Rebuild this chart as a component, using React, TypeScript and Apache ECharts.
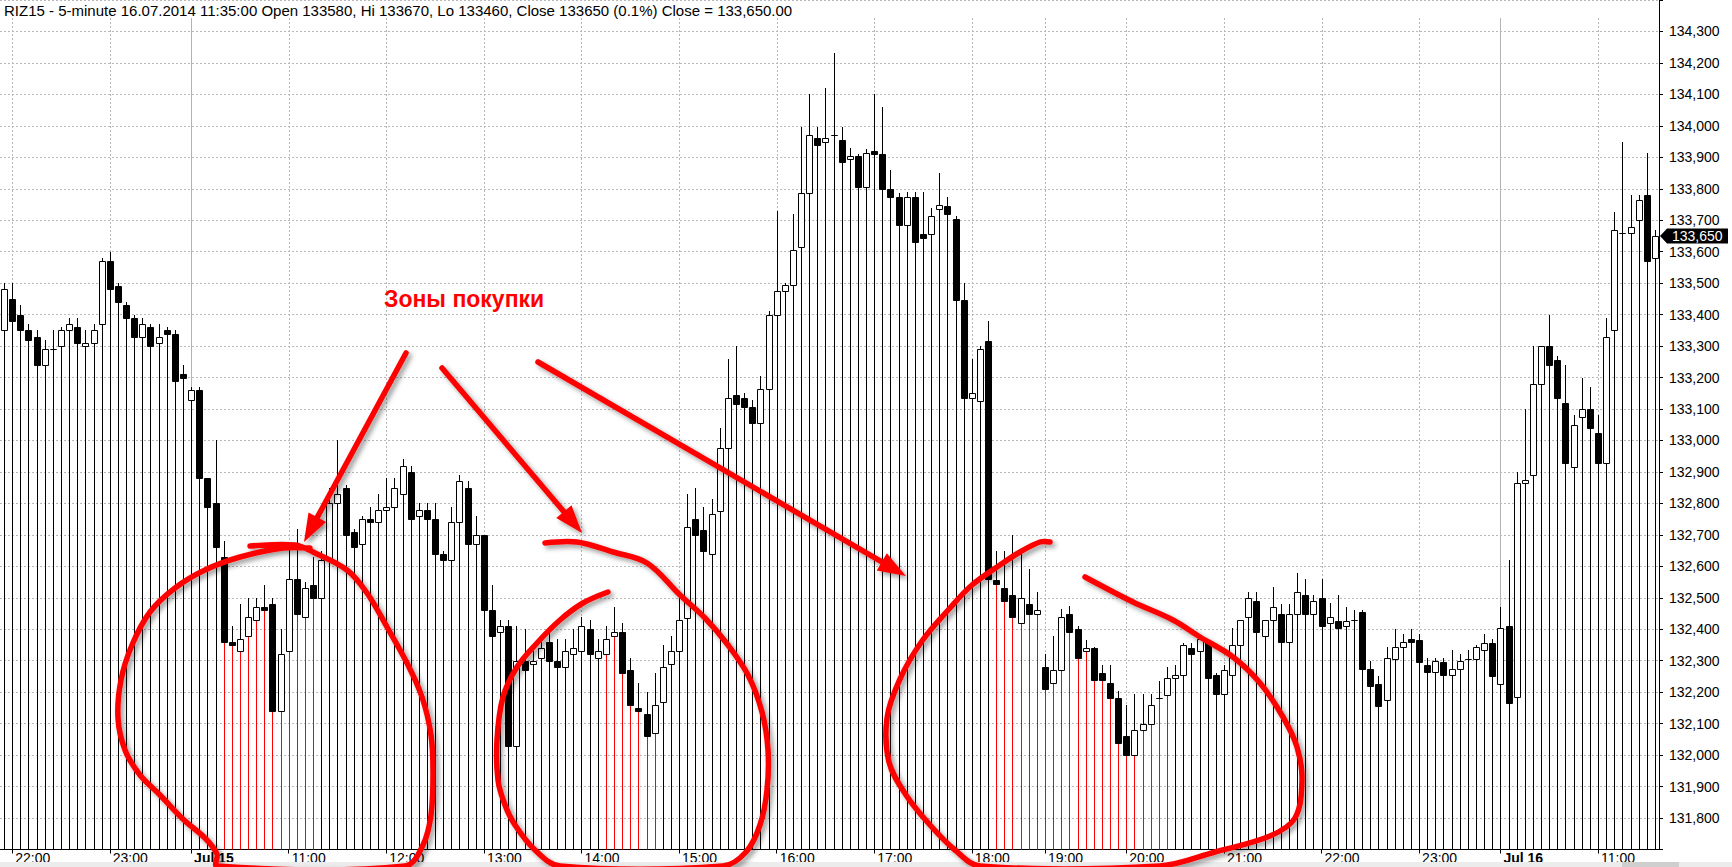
import React, { useEffect, useRef } from "react";
import * as echarts from "echarts";

// ---- categories: 5-minute bars, [hour, first minute, bar count]
const sessionHours: [number, number, number][] = [
  [21, 55, 1], [22, 0, 12], [23, 0, 10],
  [10, 0, 12], [11, 0, 12], [12, 0, 12], [13, 0, 12], [14, 0, 12], [15, 0, 12], [16, 0, 12], [17, 0, 12],
  [18, 0, 9], [19, 0, 10], [20, 0, 12], [21, 0, 12], [22, 0, 12], [23, 0, 10],
  [10, 0, 12], [11, 0, 8],
];
const pad2 = (n: number) => (n < 10 ? "0" + n : "" + n);
const times: string[] = [];
sessionHours.forEach(([h, m0, n]) => {
  for (let k = 0; k < n; k++) times.push(pad2(h) + ":" + pad2(m0 + 5 * k));
});

// ---- tick labels
const tickIdx = [1, 13, 23, 35, 47, 59, 71, 83, 95, 107, 119, 128, 138, 150, 162, 174, 184, 196];
const tickText = ["22:00", "23:00", "Jul 15", "11:00", "12:00", "13:00", "14:00", "15:00", "16:00", "17:00",
  "18:00", "19:00", "20:00", "21:00", "22:00", "23:00", "Jul 16", "11:00"];
const dayStarts = [23, 184];

// ---- buy zones (bar index ranges drawn red below the body)
const buyZones: [number, number][] = [[27, 38], [74, 80], [122, 143]];

// ---- OHLC (low lines run down to the axis)
const opens = [
  133350, 133450, 133400, 133350, 133330, 133240, 133290, 133300, 133350, 133360,
  133300, 133310, 133370, 133570, 133490, 133430, 133390, 133330, 133360, 133310,
  133350, 133340, 133210, 133130, 133160, 132880, 132800, 132630, 132360, 132330,
  132380, 132430, 132470, 132480, 132140, 132330, 132560, 132440, 132540, 132500,
  132620, 132800, 132850, 132710, 132670, 132750, 132740, 132780, 132790, 132830,
  132900, 132760, 132780, 132750, 132640, 132620, 132740, 132850, 132670, 132700,
  132460, 132390, 132410, 132030, 132300, 132290, 132310, 132360, 132300, 132280,
  132320, 132330, 132400, 132310, 132320, 132380, 132390, 132270, 132150, 132130,
  132070, 132170, 132290, 132330, 132435, 132750, 132715, 132640, 132775, 132975,
  133145, 133135, 133105, 133055, 133165, 133400, 133475, 133495, 133615, 133785,
  133960, 133950, 133970, 133955, 133895, 133905, 133805, 133920, 133910, 133800,
  133775, 133685, 133775, 133655, 133655, 133735, 133745, 133705, 133445, 133135,
  133125, 133315, 132555, 132530, 132510, 132420, 132480, 132450, 132280, 132230,
  132270, 132450, 132400, 132330, 132340, 132260, 132230, 132180, 132060, 132000,
  132080, 132100, 132180, 132190, 132245, 132255, 132340, 132330, 132360, 132255,
  132195, 132255, 132350, 132440, 132490, 132380, 132430, 132450, 132360, 132450,
  132510, 132450, 132500, 132420, 132425, 132410, 132430, 132455, 132275, 132225,
  132175, 132305, 132345, 132370, 132365, 132285, 132265, 132295, 132255, 132275,
  132305, 132305, 132335, 132355, 132225, 132410, 132185, 132865, 132890, 133180,
  133300, 133255, 133120, 132915, 133075, 133100, 133025, 132930, 133350, 133660,
  133660, 133700, 133780, 133580,
];
const closes = [
  133480, 133380, 133350, 133320, 133240, 133290, 133290, 133350, 133370, 133310,
  133310, 133350, 133570, 133480, 133440, 133390, 133330, 133370, 133300, 133330,
  133340, 133190, 133200, 133160, 132880, 132790, 132660, 132360, 132350, 132370,
  132440, 132470, 132460, 132140, 132320, 132560, 132450, 132530, 132500, 132620,
  132800, 132830, 132700, 132660, 132750, 132740, 132780, 132790, 132850, 132920,
  132750, 132780, 132750, 132640, 132620, 132740, 132870, 132670, 132700, 132460,
  132380, 132410, 132030, 132300, 132270, 132300, 132340, 132300, 132280, 132330,
  132340, 132410, 132320, 132330, 132370, 132390, 132260, 132160, 132140, 132060,
  132160, 132280, 132330, 132430, 132725, 132700, 132650, 132765, 132975, 133135,
  133115, 133105, 133055, 133165, 133400, 133475, 133495, 133605, 133785, 133970,
  133940, 133960, 133970, 133885, 133905, 133805, 133915, 133910, 133800, 133775,
  133685, 133775, 133630, 133645, 133715, 133750, 133720, 133445, 133135, 133150,
  133290, 132560, 132545, 132490, 132440, 132500, 132450, 132460, 132210, 132270,
  132440, 132390, 132310, 132340, 132240, 132240, 132180, 132040, 132000, 132080,
  132100, 132160, 132180, 132245, 132255, 132350, 132320, 132370, 132245, 132195,
  132270, 132350, 132430, 132500, 132390, 132430, 132470, 132360, 132450, 132520,
  132450, 132490, 132410, 132440, 132405, 132425, 132430, 132275, 132220, 132155,
  132310, 132345, 132360, 132360, 132295, 132265, 132300, 132255, 132275, 132300,
  132305, 132345, 132355, 132250, 132405, 132165, 132865, 132875, 133180, 133300,
  133240, 133135, 132930, 133050, 133100, 133040, 132930, 133330, 133670, 133660,
  133680, 133765, 133570, 133650,
];
const highs = [
  133500, 133500, 133430, 133370, 133350, 133320, 133350, 133360, 133390, 133390,
  133350, 133370, 133580, 133600, 133500, 133440, 133400, 133390, 133370, 133370,
  133360, 133350, 133240, 133170, 133170, 132880, 133000, 132680, 132410, 132480,
  132500, 132500, 132540, 132500, 132400, 132660, 132720, 132550, 132630, 132650,
  132850, 133000, 132860, 132720, 132760, 132790, 132830, 132880, 132880, 132940,
  132920, 132800, 132800, 132800, 132650, 132790, 132890, 132870, 132760, 132700,
  132540, 132430, 132430, 132410, 132400, 132330, 132360, 132400, 132370, 132370,
  132400, 132440, 132430, 132370, 132410, 132470, 132420, 132310, 132230, 132200,
  132260, 132350, 132380, 132520, 132830, 132850, 132790, 132815, 133040, 133260,
  133300, 133150, 133130, 133205, 133410, 133730, 133500, 133720, 133995, 134100,
  133995, 134120, 134230, 133995, 133930, 133910, 133925, 134100, 134060, 133860,
  133785, 133790, 133790, 133790, 133740, 133850, 133775, 133715, 133500, 133260,
  133300, 133380, 132650, 132650, 132700, 132640, 132590, 132520, 132320, 132380,
  132465, 132475, 132410, 132365, 132345, 132285, 132285, 132205, 132160, 132195,
  132195, 132195, 132235, 132280, 132285, 132355, 132355, 132380, 132365, 132260,
  132285, 132405, 132430, 132520, 132520, 132430, 132535, 132480, 132480, 132580,
  132560, 132510, 132560, 132485, 132510, 132470, 132460, 132460, 132300, 132250,
  132345, 132400, 132385, 132400, 132385, 132310, 132310, 132310, 132335, 132320,
  132335, 132350, 132385, 132370, 132470, 132620, 132900, 133100, 133300, 133300,
  133400, 133270, 133240, 133080, 133200, 133170, 133080, 133390, 133725, 133950,
  133780, 133780, 133915, 133670,
];

const lastPrice = 133650;
const headerText =
  "RIZ15 - 5-minute 16.07.2014 11:35:00 Open 133580, Hi 133670, Lo 133460, Close 133650 (0.1%) Close = 133,650.00";
const zoneLabel = "Зоны покупки";

const FONT = '"Liberation Sans", Arial, sans-serif';
const W = 1732;
const H = 867;
const RED = "#ff0000";
const SHADOW = { shadowBlur: 5, shadowColor: "rgba(0,0,0,0.4)", shadowOffsetX: 3, shadowOffsetY: 3 };

const inZone = (i: number) => buyZones.some(([a, b]) => i >= a && i <= b);
const withCommas = (v: number) => String(v).replace(/\B(?=(\d{3})+(?!\d))/g, ",");

function arrow(x1: number, y1: number, x2: number, y2: number) {
  const dx = x2 - x1, dy = y2 - y1;
  const len = Math.sqrt(dx * dx + dy * dy);
  const ux = dx / len, uy = dy / len;
  const nx = -uy, ny = ux;
  const bx = x2 - ux * 28, by = y2 - uy * 28;
  return [
    { type: "line", z: 100, shape: { x1, y1, x2: bx + ux * 4, y2: by + uy * 4 },
      style: { stroke: RED, lineWidth: 5.5, lineCap: "round", ...SHADOW } },
    { type: "polygon", z: 100, shape: { points: [[x2, y2], [bx + nx * 10, by + ny * 10], [bx - nx * 10, by - ny * 10]] },
      style: { fill: RED, ...SHADOW } },
  ];
}

function loop(points: number[][]) {
  return {
    type: "polyline", z: 100,
    shape: { points, smooth: 0.35 },
    style: { stroke: RED, fill: null, lineWidth: 5.5, lineCap: "round", lineJoin: "round", ...SHADOW },
  };
}

export default function App() {
  const ref = useRef<HTMLDivElement>(null);

  useEffect(() => {
    document.body.style.margin = "0";
    const chart = echarts.init(ref.current!, null, { renderer: "svg", width: W, height: H });

    const candleData = times.map((_, i) => [i, opens[i], closes[i], highs[i], inZone(i) ? 1 : 0]);
    const tickSet: Record<number, string> = {};
    tickIdx.forEach((k, j) => (tickSet[k] = tickText[j]));

    chart.setOption({
      animation: false,
      backgroundColor: "#ffffff",
      grid: { left: 0, right: 73, top: -8, bottom: 17.5, containLabel: false },
      xAxis: {
        type: "category",
        data: times,
        boundaryGap: true,
        axisLine: { show: true, onZero: false, lineStyle: { color: "#000", width: 1 } },
        axisTick: {
          show: true, alignWithLabel: true, length: 4,
          interval: (idx: number) => tickSet[idx] !== undefined,
          lineStyle: { color: "#000" },
        },
        axisLabel: {
          interval: (idx: number) => tickSet[idx] !== undefined,
          formatter: (_v: string, idx: number) => {
            const t = tickSet[idx] || "";
            return t.startsWith("Jul") ? "{b|" + t + "}" : t;
          },
          align: "left",
          padding: [0, 0, 0, 3],
          margin: 1,
          fontSize: 14,
          color: "#000",
          fontFamily: FONT,
          rich: { b: { fontWeight: "bold", fontSize: 14, color: "#000", fontFamily: FONT } },
        },
        splitLine: { show: false },
      },
      yAxis: {
        type: "value",
        position: "right",
        min: 131700,
        max: 134400,
        interval: 100,
        axisLine: { show: true, lineStyle: { color: "#000", width: 1 } },
        axisTick: { show: true, length: 4, lineStyle: { color: "#000" } },
        axisLabel: {
          margin: 10,
          fontSize: 14,
          color: "#000",
          fontFamily: FONT,
          formatter: (v: number) => (v === 131700 || v === 134400 ? "" : withCommas(v)),
        },
        splitLine: { show: true, lineStyle: { type: [2, 2], color: "#b8b8b8", width: 1 } },
      },
      series: [
        {
          type: "custom",
          name: "hourGrid",
          z: 1,
          silent: true,
          data: tickIdx.map((k) => [k, 132000]),
          encode: { x: 0, y: 1 },
          renderItem: (params: any, api: any) => {
            const idx = api.value(0);
            const p = api.coord([idx, 132000]);
            const cs = params.coordSys;
            const x = Math.round(p[0]) + 0.5;
            const isDay = dayStarts.indexOf(idx) >= 0;
            return {
              type: "line",
              shape: { x1: x, y1: 18, x2: x, y2: cs.y + cs.height },
              style: isDay
                ? { stroke: "#b4b4b4", lineWidth: 1 }
                : { stroke: "#b8b8b8", lineWidth: 1, lineDash: [2, 2] },
            };
          },
        },
        {
          type: "custom",
          name: "RIZ15",
          z: 2,
          data: candleData,
          encode: { x: 0, y: [1, 2, 3] },
          renderItem: (params: any, api: any) => {
            const i = api.value(0);
            const o = api.value(1), c = api.value(2), h = api.value(3), red = api.value(4);
            const pO = api.coord([i, o]);
            const pC = api.coord([i, c]);
            const pH = api.coord([i, h]);
            const cs = params.coordSys;
            const yb = cs.y + cs.height;
            const cx = Math.round(pO[0]);
            const x = cx + 0.5;
            const top = Math.round(Math.min(pO[1], pC[1])) + 0.5;
            const bot = Math.round(Math.max(pO[1], pC[1])) + 0.5;
            return {
              type: "group",
              children: [
                { type: "line", shape: { x1: x, y1: Math.round(pH[1]), x2: x, y2: top },
                  style: { stroke: "#000", lineWidth: 1 } },
                { type: "line", shape: { x1: x, y1: bot, x2: x, y2: yb },
                  style: { stroke: red ? RED : "#000", lineWidth: 1 } },
                { type: "rect", shape: { x: cx - 2.5, y: top, width: 6, height: Math.max(bot - top, 0) },
                  style: { fill: c >= o ? "#fff" : "#000", stroke: "#000", lineWidth: 1 } },
              ],
            };
          },
        },
      ],
    });

    const yLast = chart.convertToPixel({ yAxisIndex: 0 }, lastPrice) as number;
    const axisX = W - 73;

    chart.setOption({
      graphic: [
        { type: "text", x: 4, y: 10, z: 50,
          style: { text: headerText, font: "15px " + FONT, fill: "#000", verticalAlign: "middle" } },
        // last price marker
        { type: "polygon", z: 60,
          shape: { points: [[axisX + 1, yLast], [axisX + 8, yLast - 7.5], [W - 4, yLast - 7.5], [W - 4, yLast + 7.5], [axisX + 8, yLast + 7.5]] },
          style: { fill: "#000" } },
        { type: "text", x: axisX + 13, y: yLast, z: 61,
          style: { text: withCommas(lastPrice), font: "14px " + FONT, fill: "#fff", verticalAlign: "middle" } },
        // bottom scroll strip
        { type: "rect", z: 40, shape: { x: 0, y: 862, width: W, height: 5 }, style: { fill: "#ececec" } },
        { type: "rect", z: 41, shape: { x: 1622, y: 862, width: 57, height: 5 }, style: { fill: "#cfcfcf" } },
        // annotation text
        { type: "text", x: 384, y: 299, z: 100,
          style: { text: zoneLabel, font: "bold 23px " + FONT, fill: RED, verticalAlign: "middle",
            shadowBlur: 3, shadowColor: "rgba(0,0,0,0.3)", shadowOffsetX: 2, shadowOffsetY: 2 } },
        ...arrow(406, 353, 304, 542),
        ...arrow(442, 368, 582, 533),
        ...arrow(538, 362, 906, 576),
        loop([[250, 546], [295, 545], [313, 552], [347, 570], [367, 593], [387, 627], [407, 663], [422, 697],
          [431, 735], [433, 773], [431, 815], [423, 845], [405, 866], [217, 866], [217, 854], [205, 838],
          [184, 820], [160, 795], [140, 775], [125, 750], [118, 718], [121, 680], [132, 645], [150, 612],
          [175, 588], [205, 570], [240, 557], [283, 548], [310, 548]]),
        loop([[608, 592], [583, 603], [560, 620], [537, 643], [517, 667], [503, 697], [497, 740], [498, 780],
          [505, 805], [515, 825], [535, 850], [560, 866], [723, 866], [746, 852], [760, 825], [767, 790],
          [768, 750], [762, 712], [748, 675], [728, 645], [705, 618], [680, 595], [647, 563], [613, 552],
          [577, 542], [545, 543]]),
        loop([[1050, 542], [1040, 542], [1020, 552], [1000, 565], [972, 585], [950, 608], [922, 641],
          [900, 679], [887, 718], [889, 762], [906, 795], [930, 825], [955, 850], [980, 866], [1160, 866],
          [1215, 852], [1270, 836], [1295, 818], [1302, 780], [1297, 747], [1283, 717], [1260, 683],
          [1233, 657], [1200, 637], [1173, 620], [1133, 602], [1085, 577]]),
      ],
    });

    return () => chart.dispose();
  }, []);

  return (
    <div
      ref={ref}
      style={{ position: "absolute", left: 0, top: 0, width: W, height: H, background: "#fff" }}
    />
  );
}
